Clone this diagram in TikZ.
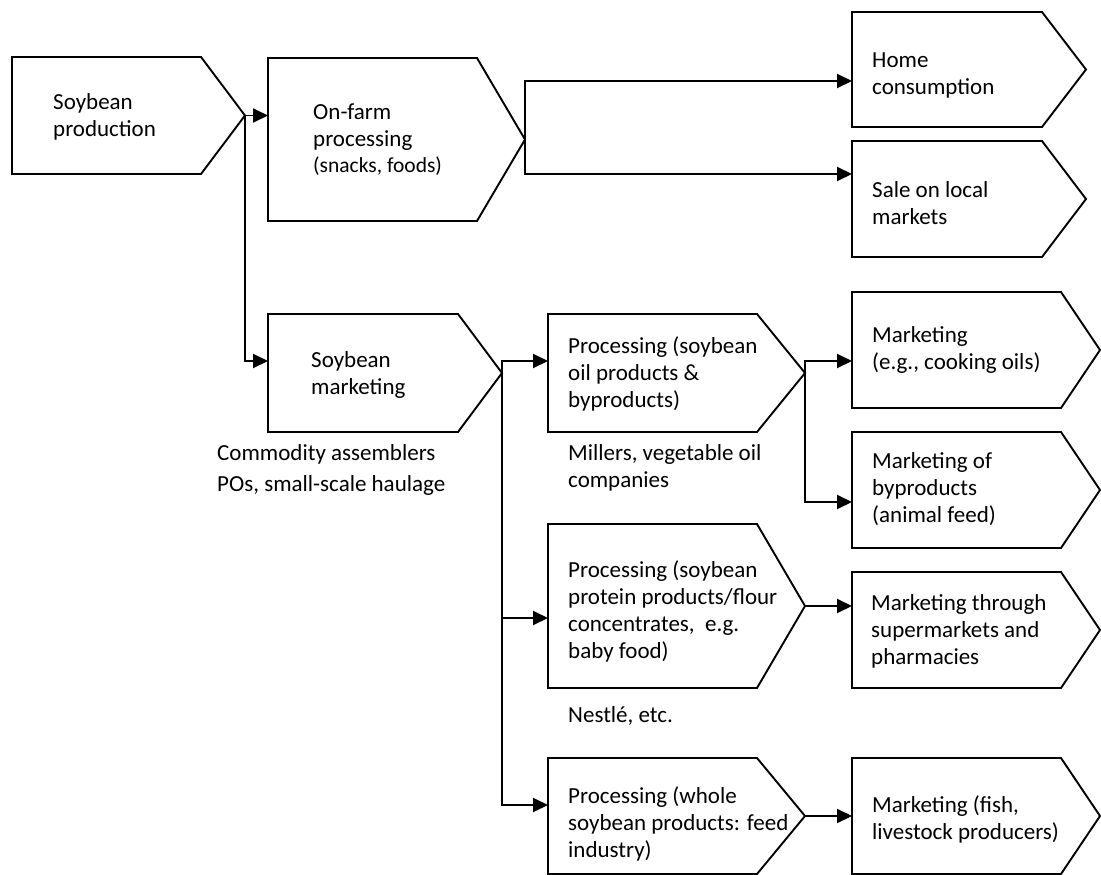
\documentclass[tikz,border=0pt]{standalone}
\usepackage{fontspec}
\setmainfont{Carlito}
\usetikzlibrary{arrows.meta}

\tikzset{
  chev/.style={draw=black, line width=1.9pt, line join=miter},
  holder/.style={inner sep=0pt, outer sep=0pt},
  lbl/.style={anchor=base west, inner sep=0pt,
              font=\fontsize{23}{27}\selectfont},
  flow/.style={line width=1.9pt, -{Triangle[length=15pt,width=14pt]}},
}

% \chevbox{name}{left}{top}{right}{tip}{bottom}: pointed box, tip on the right
\newcommand\chevbox[6]{%
  \node[holder, minimum width={(#4-#2)*1pt}, minimum height={(#6-#3)*1pt}]
    (#1) at ({(#2+#4)/2},{(#3+#6)/2}) {};
  \coordinate (#1-tip) at (#5,{(#3+#6)/2});
  \draw[chev] (#1.north west) -- (#1.north east) -- (#1-tip)
    -- (#1.south east) -- (#1.south west) -- cycle;
}

% left-aligned lines whose baseline is that of the first line
\newcommand\stack[1]{\begin{tabular}[t]{@{}l@{}}#1\end{tabular}}

\begin{document}
\begin{tikzpicture}[x=1pt,y=-1pt]
  \useasboundingbox[fill=white] (0,0) rectangle (1101,875);

  % boxes
  \chevbox{A}{12}{57}{201}{245}{174}
  \chevbox{B}{268}{58}{477}{525}{221}
  \chevbox{H}{852}{12}{1042}{1086}{127}
  \chevbox{S}{852}{141}{1042}{1086}{257}
  \chevbox{C}{268}{314}{458}{502}{432}
  \chevbox{P1}{548}{314}{757}{805}{432}
  \chevbox{M1}{852}{292}{1061}{1100}{408}
  \chevbox{M2}{852}{432}{1061}{1100}{548}
  \chevbox{P2}{548}{524}{757}{805}{688}
  \chevbox{M3}{852}{572}{1061}{1100}{688}
  \chevbox{P3}{548}{758}{757}{805}{874}
  \chevbox{M4}{852}{758}{1061}{1100}{874}

  % box texts
  \node[lbl] (tA) at (53,110) {\stack{Soybean\\production}};
  \node[lbl] (tB) at (313,119) {\stack{On-farm\\processing\\{\fontsize{21.5}{27}\selectfont(snacks, foods)}}};
  \node[lbl] (tH) at (872,68) {\stack{Home\\consumption}};
  \node[lbl] (tS) at (872,197) {\stack{Sale on local\\markets}};
  \node[lbl] (tC) at (311,367) {\stack{Soybean\\marketing}};
  \node[lbl] (tP1) at (568,353) {\stack{Processing (soybean\\oil products \&\\byproducts)}};
  \node[lbl] (tM1) at (872,342) {\stack{Marketing\\(e.g., cooking oils)}};
  \node[lbl] (tM2) at (872,468) {\stack{Marketing of\\byproducts\\(animal feed)}};
  \node[lbl] (tP2) at (568,577) {\stack{Processing (soybean\\protein products/flour\\concentrates,~ e.g.\\baby food)}};
  \node[lbl] (tM3) at (871,610) {\stack{Marketing through\\supermarkets and\\pharmacies}};
  \node[lbl] (tP3) at (568,803) {\stack{Processing (whole\\soybean products: feed\\industry)}};
  \node[lbl] (tM4) at (872,812) {\stack{Marketing (fish,\\livestock producers)}};

  % actors under the boxes
  \node[lbl] (nC) at (217,460) {\stack{Commodity assemblers\\[4pt]POs, small-scale haulage}};
  \node[lbl] (nP1) at (568,460) {\stack{Millers, vegetable oil\\companies}};
  \node[lbl] (nP2) at (568,722) {Nestlé, etc.};

  % connectors
  \draw[flow] (A-tip) -- (A-tip -| B.west);
  \draw[flow] (A-tip) |- ([yshift=12pt]C.west);
  \draw[flow] (B-tip) |- ([yshift=-11.5pt]H.west);
  \draw[flow] (B-tip) |- ([yshift=25pt]S.west);
  \draw[flow] (C-tip) |- ([yshift=12pt]P1.west);
  \draw[flow] (C-tip) |- ([yshift=-12pt]P2.west);
  \draw[flow] (C-tip) |- ([yshift=11pt]P3.west);
  \draw[flow] (P1-tip) |- ([yshift=-11pt]M1.west);
  \draw[flow] (P1-tip) |- ([yshift=-12pt]M2.west);
  \draw[flow] (P2-tip) -- (P2-tip -| M3.west);
  \draw[flow] (P3-tip) -- (P3-tip -| M4.west);
\end{tikzpicture}
\end{document}
